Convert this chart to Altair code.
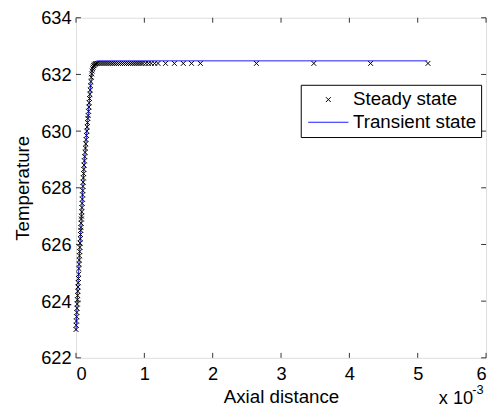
import altair as alt
import pandas as pd

FONT = "Liberation Sans"

# Steady state (x in units of 1e-3)
steady_x = [0.000, 0.003, 0.006, 0.009, 0.012, 0.015, 0.018, 0.021, 0.024, 0.027,
            0.030, 0.033, 0.036, 0.039, 0.042, 0.045, 0.048, 0.051, 0.054, 0.057,
            0.060, 0.063, 0.066, 0.069, 0.072, 0.075, 0.078, 0.081, 0.084, 0.087,
            0.090, 0.093, 0.096, 0.099, 0.102, 0.105, 0.108, 0.111, 0.114, 0.118,
            0.123, 0.128, 0.133, 0.138, 0.143, 0.148, 0.153, 0.158, 0.163, 0.168,
            0.173, 0.178, 0.183, 0.188, 0.193, 0.198, 0.203, 0.208, 0.213, 0.218,
            0.224, 0.230, 0.236, 0.243, 0.250, 0.258, 0.267, 0.277, 0.290, 0.305,
            0.32, 0.35, 0.38, 0.41, 0.44, 0.47, 0.50, 0.53, 0.56, 0.59,
            0.62, 0.65, 0.68, 0.71, 0.74, 0.77, 0.80, 0.83, 0.86, 0.89,
            0.92, 0.95, 0.98, 1.02, 1.06, 1.10, 1.15, 1.20, 1.31, 1.44,
            1.57, 1.69, 1.82, 2.64, 3.48, 4.31, 5.15]
steady_t = [623.00, 623.15, 623.30, 623.45, 623.60, 623.75, 623.90, 624.05, 624.20, 624.35,
            624.50, 624.65, 624.80, 624.95, 625.15, 625.30, 625.45, 625.60, 625.75, 625.90,
            626.05, 626.20, 626.35, 626.50, 626.60, 626.75, 626.90, 627.00, 627.15, 627.30,
            627.45, 627.60, 627.75, 627.90, 628.05, 628.20, 628.35, 628.50, 628.65, 628.80,
            628.95, 629.10, 629.25, 629.40, 629.55, 629.70, 629.85, 630.00, 630.15, 630.30,
            630.45, 630.55, 630.70, 630.85, 631.00, 631.15, 631.30, 631.45, 631.60, 631.75,
            631.90, 632.02, 632.12, 632.20, 632.26, 632.31, 632.34, 632.36, 632.38, 632.39,
            632.39, 632.39, 632.39, 632.39, 632.39, 632.39, 632.39, 632.39, 632.39, 632.39,
            632.39, 632.39, 632.39, 632.39, 632.39, 632.39, 632.39, 632.39, 632.39, 632.39,
            632.39, 632.39, 632.39, 632.39, 632.39, 632.39, 632.39, 632.39, 632.39, 632.39,
            632.39, 632.39, 632.39, 632.39, 632.39, 632.39, 632.39]

# Transient state
trans_x = [0.000, 0.040, 0.080, 0.115, 0.140, 0.190, 0.215, 0.235, 0.255, 0.280, 0.330, 5.14]
trans_t = [622.95, 625.10, 627.00, 628.65, 629.45, 630.90, 631.65, 632.10, 632.35, 632.45, 632.48, 632.48]

series_names = ["Steady state", "Transient state"]
x_ticks = [0, 1, 2, 3, 4, 5, 6]
y_ticks = [622, 624, 626, 628, 630, 632, 634]

W, H = 416, 345

steady_df = pd.DataFrame({"x": steady_x, "t": steady_t, "series": series_names[0]})
trans_df = pd.DataFrame({"x": trans_x, "t": trans_t, "series": series_names[1]})
xt_df = pd.DataFrame({"v": x_ticks})
yt_df = pd.DataFrame({"v": y_ticks})

xscale = alt.Scale(domain=[0, 6], nice=False, zero=False)
yscale = alt.Scale(domain=[622, 634], nice=False, zero=False)

SYM = 361  # symbol area -> 19 px unit box
color_scale = alt.Scale(domain=series_names, range=["black", "#1a1aff"])
shape_scale = alt.Scale(domain=series_names,
                        range=["M-0.26,-0.26L0.26,0.26M-0.26,0.26L0.26,-0.26", "M-2.15,0L2.15,0"])

legend = alt.Legend(title=None, orient="none", legendX=228, legendY=68,
                    strokeColor="black", fillColor="white", padding=5,
                    labelFont=FONT, labelFontSize=19, labelColor="black",
                    symbolSize=SYM, symbolStrokeWidth=1, symbolOffset=13, labelOffset=15,
                    rowPadding=3, cornerRadius=0)

x_axis = alt.Axis(values=x_ticks, format="d", title="Axial distance", grid=False,
                  domain=False, ticks=False, labelPadding=7, titlePadding=5,
                  labelFont=FONT, labelFontSize=18.5, labelColor="black",
                  titleFont=FONT, titleFontSize=19, titleFontWeight="normal", titleColor="black")
y_axis = alt.Axis(values=y_ticks, format="d", title="Temperature", grid=False,
                  domain=False, ticks=False, labelPadding=5, titlePadding=8,
                  labelFont=FONT, labelFontSize=18.5, labelColor="black",
                  titleFont=FONT, titleFontSize=19, titleFontWeight="normal", titleColor="black")

X = lambda f: alt.X(f, scale=xscale, axis=x_axis)
Y = lambda f: alt.Y(f, scale=yscale, axis=y_axis)

line = alt.Chart(trans_df).mark_line(strokeWidth=1, interpolate="monotone").encode(
    x=X("x:Q"), y=Y("t:Q"),
    color=alt.Color("series:N", scale=color_scale, legend=legend),
)

points = alt.Chart(steady_df).mark_point(filled=False, strokeWidth=1, size=SYM, opacity=1).encode(
    x=X("x:Q"), y=Y("t:Q"),
    color=alt.Color("series:N", scale=color_scale, legend=legend),
    shape=alt.Shape("series:N", scale=shape_scale, legend=legend),
)

tick_color = "#333333"
xt_bottom = alt.Chart(xt_df).mark_rule(color=tick_color, strokeWidth=1).encode(
    x=X("v:Q"), y=alt.value(H), y2=alt.value(H - 5))
xt_top = alt.Chart(xt_df).mark_rule(color=tick_color, strokeWidth=1).encode(
    x=X("v:Q"), y=alt.value(0), y2=alt.value(5))
yt_left = alt.Chart(yt_df).mark_rule(color=tick_color, strokeWidth=1).encode(
    y=Y("v:Q"), x=alt.value(0), x2=alt.value(5))
yt_right = alt.Chart(yt_df).mark_rule(color=tick_color, strokeWidth=1).encode(
    y=Y("v:Q"), x=alt.value(W), x2=alt.value(W - 5))

exp_base = alt.Chart(pd.DataFrame({"s": ["x 10"]})).mark_text(
    font=FONT, fontSize=18.5, color="black", align="left", baseline="alphabetic").encode(
    text="s:N", x=alt.value(368), y=alt.value(392))
exp_pow = alt.Chart(pd.DataFrame({"s": ["-3"]})).mark_text(
    font=FONT, fontSize=13, color="black", align="left", baseline="alphabetic").encode(
    text="s:N", x=alt.value(402), y=alt.value(382))

chart = alt.layer(line, points, xt_bottom, xt_top, yt_left, yt_right, exp_base, exp_pow).properties(
    width=W, height=H,
    autosize=alt.AutoSizeParams(type="none"),
    padding={"left": 69, "top": 7, "right": 4, "bottom": 49},
).configure_view(stroke="black", strokeWidth=1).configure(background="white")

chart.save("out.html", embed_options={"renderer": "svg", "actions": False})
